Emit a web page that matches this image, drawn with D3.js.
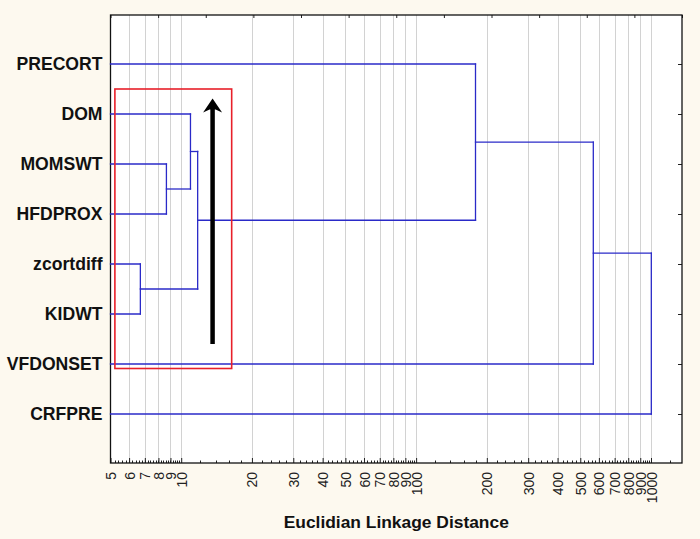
<!DOCTYPE html>
<html><head><meta charset="utf-8">
<script src="https://cdn.jsdelivr.net/npm/d3@7/dist/d3.min.js"></script>
<style>
html,body{margin:0;padding:0;background:#fdf9ef;}
svg{display:block;}
</style></head>
<body>
<svg id="chart" width="700" height="539"></svg>
<script>
// ---- data ----
const leaves = ["PRECORT","DOM","MOMSWT","HFDPROX","zcortdiff","KIDWT","VFDONSET","CRFPRE"];
// linkage: cluster ids 0..7 are leaves, new clusters get ids 8,9,...
const mergeA = [4, 2, 1, 10, 0, 12, 13];
const mergeB = [5, 3, 9, 8, 11, 6, 7];
const mergeHeight = [6.7, 8.65, 10.95, 11.75, 179, 568, 1003];
const tickValues = [5,6,7,8,9,10,20,30,40,50,60,70,80,90,100,200,300,400,500,600,700,800,900,1000];
const gridValues = [6,7,8,9,10,20,30,40,50,60,70,80,90,100,200,300,400,500,600,700,800,900,1000];
const xDomain = [5, 1355];
const axisTitle = "Euclidian Linkage Distance";
// annotation (red box around the sub-cluster, arrow)
const boxX = [5.22, 16.4];
const arrowX = 13.6;

// ---- layout ----
const svg = d3.select("#chart");
const L = 110.5, R = 682, T = 15, B = 463;
const x = d3.scaleLog().domain(xDomain).range([L, R]);
const y = d3.scalePoint().domain(leaves).range([T, B]).padding(0.98);

svg.append("rect").attr("x", L).attr("y", T).attr("width", R - L).attr("height", B - T).attr("fill", "#ffffff");

// gridlines
svg.append("g").selectAll("line").data(gridValues).join("line")
  .attr("x1", d => Math.round(x(d)) + 0.5).attr("x2", d => Math.round(x(d)) + 0.5)
  .attr("y1", T).attr("y2", B)
  .attr("stroke", "#d2d2d2").attr("stroke-width", 1);

// minor ticks
const minor = [];
for (let v = 5.2; v < 9.95; v += 0.2) minor.push(+v.toFixed(1));
for (let v = 12; v < 100; v += 2) if (v % 10) minor.push(v);
for (let v = 120; v < 1000; v += 20) if (v % 100) minor.push(v);
minor.push(1200);
svg.append("g").selectAll("line").data(minor).join("line")
  .attr("x1", d => Math.round(x(d)) + 0.5).attr("x2", d => Math.round(x(d)) + 0.5)
  .attr("y1", B).attr("y2", B - 2.5)
  .attr("stroke", "#222").attr("stroke-width", 1);

// bottom axis (major ticks inward, labels rotated)
const xAxis = d3.axisBottom(x).tickValues(tickValues).tickSizeInner(-5).tickSizeOuter(0).tickFormat(d3.format("d"));
const gx = svg.append("g").attr("transform", `translate(0,${B})`).call(xAxis);
gx.select(".domain").remove();
gx.selectAll(".tick line").attr("stroke", "#222");
gx.selectAll(".tick text")
  .attr("transform", "translate(0,9) rotate(-90)")
  .attr("x", 0).attr("y", 0).attr("dy", "0.36em")
  .attr("text-anchor", "end")
  .attr("font-family", "Liberation Sans, Arial, sans-serif")
  .style("font-size", "14px").attr("fill", "#222");

// top ticks (evenly spaced, inward)
const xTop = d3.scaleLinear().domain([0, 12]).range([L, R]);
svg.append("g").attr("transform", `translate(0,${T})`)
  .call(d3.axisTop(xTop).ticks(12).tickSizeInner(-3).tickSizeOuter(0).tickFormat(""))
  .call(g => g.select(".domain").remove())
  .selectAll(".tick line").attr("stroke", "#222");

// right ticks at leaves (inward)
svg.append("g").attr("transform", `translate(${R},0)`)
  .call(d3.axisRight(y).tickSizeInner(-4).tickSizeOuter(0).tickFormat(""))
  .call(g => g.select(".domain").remove())
  .selectAll(".tick line").attr("stroke", "#222");

// frame
svg.append("rect").attr("x", L).attr("y", T).attr("width", R - L).attr("height", B - T)
  .attr("fill", "none").attr("stroke", "#111").attr("stroke-width", 1.3);

// leaf labels
svg.append("g").selectAll("text").data(leaves).join("text")
  .attr("x", L - 8).attr("y", d => y(d)).attr("dy", "0.36em")
  .attr("text-anchor", "end")
  .attr("font-family", "Liberation Sans, Arial, sans-serif")
  .attr("font-weight", "bold").style("font-size", "17.6px").attr("fill", "#111")
  .text(d => d);

// dendrogram
const nodeY = leaves.map(d => y(d));
const nodeH = leaves.map(() => xDomain[0]);
const segs = [];
mergeA.forEach((a, i) => {
  const b = mergeB[i], h = mergeHeight[i];
  segs.push({x1: nodeH[a], x2: h, y1: nodeY[a], y2: nodeY[a]});
  segs.push({x1: nodeH[b], x2: h, y1: nodeY[b], y2: nodeY[b]});
  segs.push({x1: h, x2: h, y1: nodeY[a], y2: nodeY[b]});
  nodeY.push((nodeY[a] + nodeY[b]) / 2);
  nodeH.push(h);
});
svg.append("g").selectAll("line").data(segs).join("line")
  .attr("x1", d => x(d.x1)).attr("x2", d => x(d.x2))
  .attr("y1", d => d.y1).attr("y2", d => d.y2)
  .attr("stroke", "#2a2ac8").attr("stroke-width", 1.3).attr("stroke-linecap", "square");

// red box
const boxTop = (y(leaves[0]) + y(leaves[1])) / 2;
const boxBottom = y(leaves[6]) + 4.5;
svg.append("rect")
  .attr("x", x(boxX[0])).attr("y", boxTop)
  .attr("width", x(boxX[1]) - x(boxX[0])).attr("height", boxBottom - boxTop)
  .attr("fill", "none").attr("stroke", "#e8202a").attr("stroke-width", 1.6);

// arrow
const ax = x(arrowX);
const tipY = boxTop + 9.5, baseY = y(leaves[5]) + 30;
svg.append("line").attr("x1", ax).attr("x2", ax).attr("y1", baseY).attr("y2", tipY + 10)
  .attr("stroke", "#000").attr("stroke-width", 4.5);
svg.append("path")
  .attr("d", `M${ax},${tipY} L${ax + 9.5},${tipY + 14} L${ax + 3},${tipY + 11} L${ax - 3},${tipY + 11} L${ax - 9.5},${tipY + 14} Z`)
  .attr("fill", "#000");

// axis title
svg.append("text").attr("x", (L + R) / 2).attr("y", 528)
  .attr("text-anchor", "middle")
  .attr("font-family", "Liberation Sans, Arial, sans-serif")
  .attr("font-weight", "bold").style("font-size", "17.4px").attr("fill", "#111")
  .text(axisTitle);
</script>
</body></html>
